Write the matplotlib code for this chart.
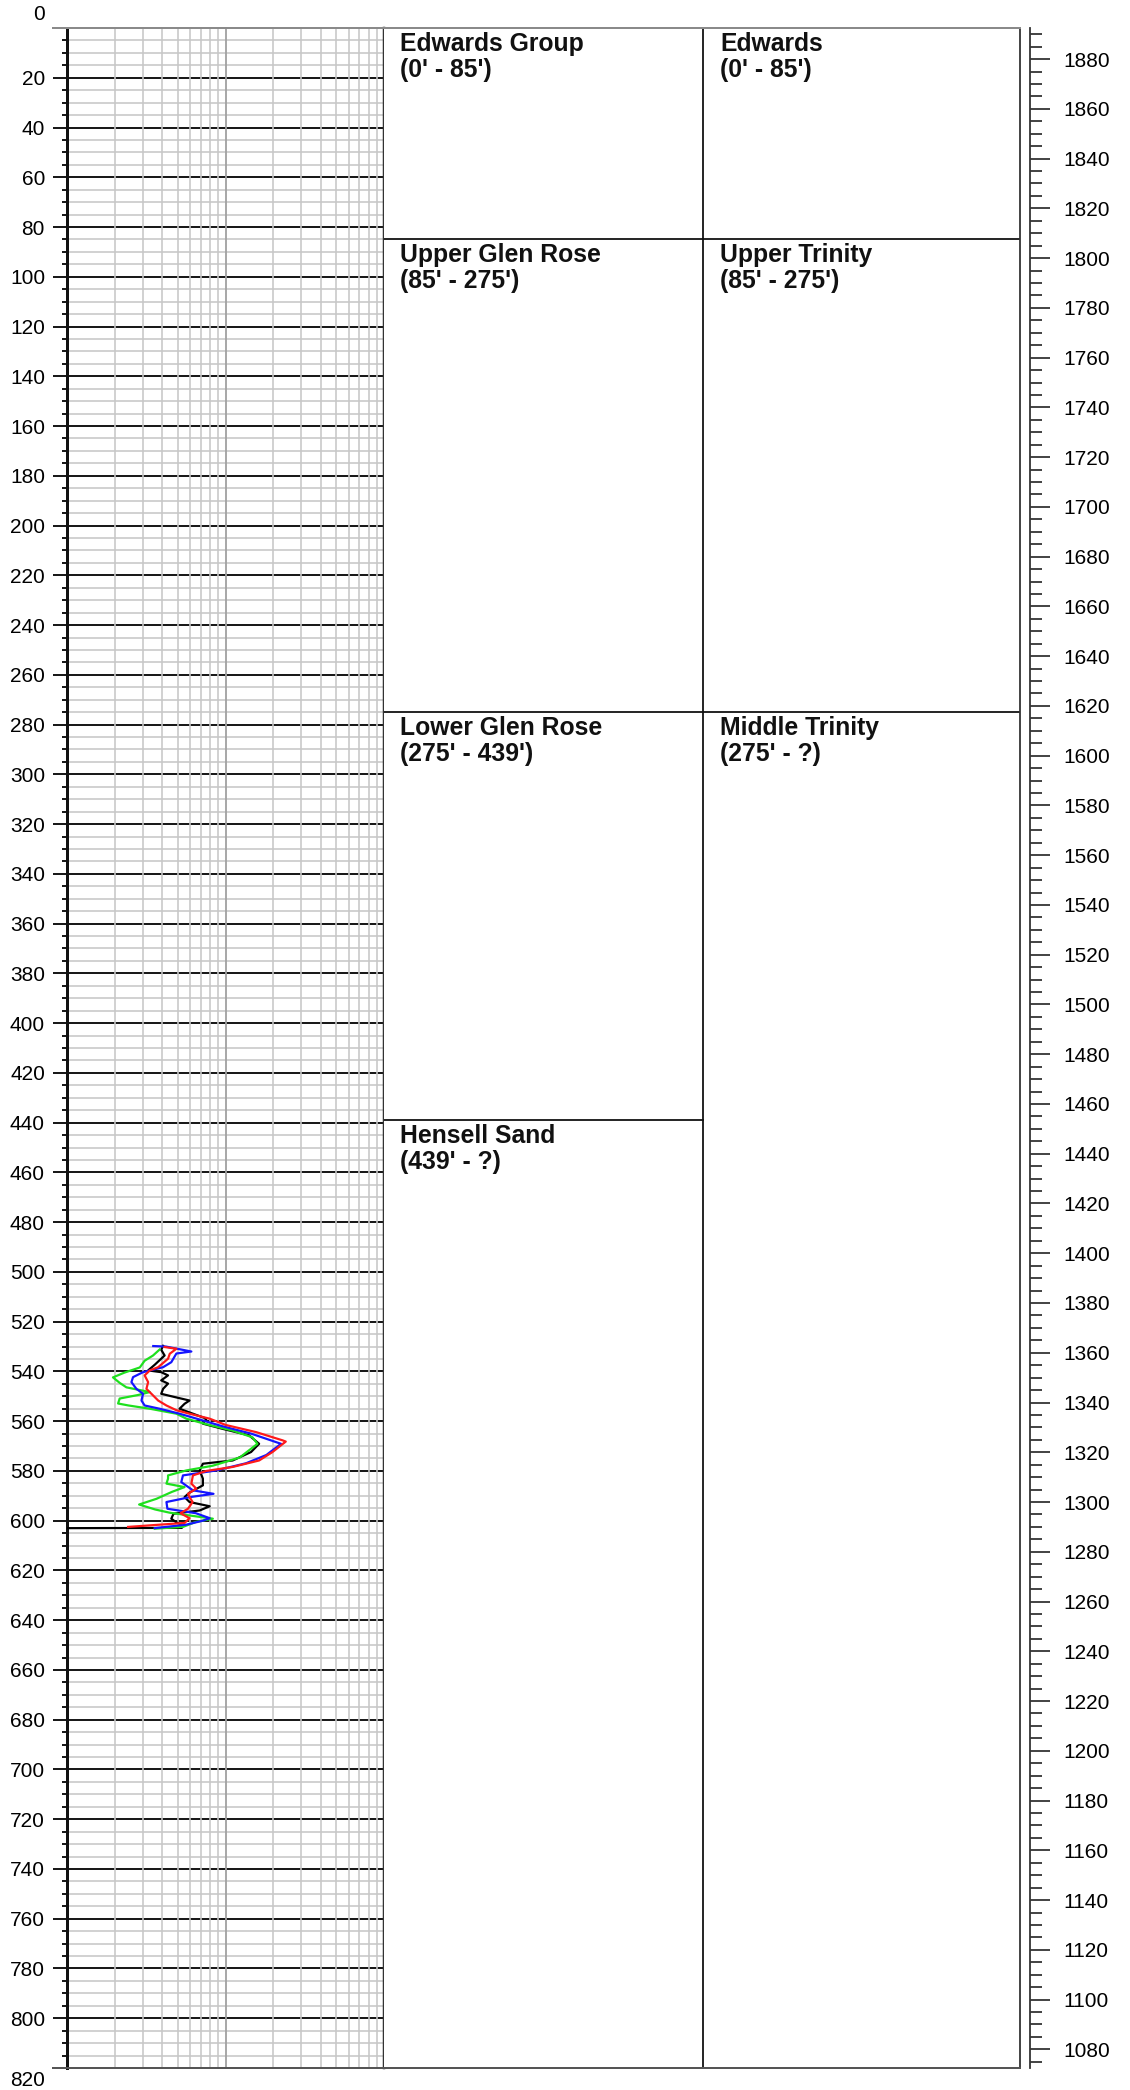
import matplotlib
matplotlib.use("Agg")
import matplotlib.pyplot as plt
from matplotlib.ticker import MultipleLocator, NullLocator
from matplotlib.lines import Line2D

plt.rcParams['font.family'] = ['Liberation Sans', 'DejaVu Sans']

# ── data ─────────────────────────────────────────────────────────────────────
# log curves: depth (ft) and reading (log scale, 1-100)
black_depth = [529.7, 531.3, 533.6, 537.3, 539.6, 540.3, 541.6, 543.6, 544.9, 547.0,
               549.0, 550.3, 551.7, 553.0, 555.0, 557.0, 559.0, 561.0, 563.1, 565.7,
               569.1, 572.4, 575.8, 577.1, 579.8, 583.1, 585.8, 588.7, 590.5, 592.5,
               594.2, 595.9, 597.2, 599.2, 600.7, 601.9, 602.9, 603.0]
black_val = [4.04, 3.93, 4.13, 3.58, 3.25, 3.93, 4.34, 3.93, 4.34, 4.04,
             3.93, 4.78, 5.93, 5.52, 5.13, 6.23, 7.58, 7.2, 9.6, 14.1,
             16.3, 14.5, 11.1, 7.2, 6.87, 7.2, 7.2, 5.93, 5.52, 5.93,
             7.95, 6.87, 4.7, 4.55, 4.9, 5.39, 5.3, 1.0]

green_depth = [531.2, 533.6, 535.7, 538.4, 540.5, 542.4, 544.6, 546.4, 548.3, 549.5,
               550.9, 552.9, 553.7, 555.0, 557.0, 559.0, 561.2, 563.8, 566.5, 569.1,
               574.6, 577.9, 579.8, 581.8, 583.1, 585.1, 586.5, 588.4, 591.2, 593.5,
               595.5, 596.8, 599.2, 600.5, 602.5, 603.2]
green_val = [3.84, 3.49, 3.09, 2.88, 2.3, 1.95, 2.15, 2.37, 3.33, 2.8,
             2.15, 2.1, 2.45, 3.33, 4.9, 5.66, 7.55, 11.1, 14.8, 15.9,
             12.3, 8.32, 5.66, 4.34, 4.34, 4.24, 5.52, 4.6, 3.67, 2.85,
             3.6, 4.45, 8.32, 6.5, 5.39, 3.58]

blue_depth = [529.8, 530.0, 532.0, 532.8, 536.3, 538.3, 540.3, 542.3, 544.3, 547.0,
              549.0, 551.7, 553.7, 555.0, 557.0, 559.5, 562.0, 565.0, 569.1, 573.6,
              576.9, 579.8, 581.8, 584.5, 587.8, 589.2, 590.5, 592.5, 595.2, 597.0,
              599.0, 600.0, 601.6, 603.0]
blue_val = [3.5, 4.2, 6.09, 4.9, 4.55, 4.04, 3.02, 2.61, 2.55, 2.74,
            3.02, 2.95, 3.09, 3.84, 5.13, 7.0, 9.5, 14.5, 22.4, 18.1,
            13.5, 8.75, 5.39, 5.26, 6.23, 8.4, 6.0, 4.24, 4.3, 6.5,
            7.95, 7.2, 5.66, 3.58]

red_depth = [530.2, 530.9, 532.9, 534.9, 538.3, 539.6, 541.6, 544.3, 547.0, 549.0,
             551.7, 553.7, 555.6, 557.0, 559.0, 561.5, 564.4, 567.7, 568.2, 572.4,
             575.8, 578.4, 580.0, 581.8, 585.1, 587.1, 589.2, 590.5, 592.5, 595.2,
             597.0, 599.0, 600.9, 602.5]
red_val = [4.13, 4.9, 4.45, 4.34, 3.76, 3.33, 3.09, 3.25, 3.17, 3.41,
           3.76, 4.24, 4.9, 5.93, 7.95, 10.0, 15.6, 22.9, 24.0, 19.8,
           16.3, 11.1, 7.58, 6.23, 6.09, 6.54, 5.8, 5.93, 6.2, 5.8,
           5.2, 5.93, 5.52, 2.43]

# stratigraphy columns
group_names = ["Edwards Group", "Upper Glen Rose", "Lower Glen Rose", "Hensell Sand"]
group_ranges = ["(0' - 85')", "(85' - 275')", "(275' - 439')", "(439' - ?)"]
group_tops = [0, 85, 275, 439]

aquifer_names = ["Edwards", "Upper Trinity", "Middle Trinity"]
aquifer_ranges = ["(0' - 85')", "(85' - 275')", "(275' - ?)"]
aquifer_tops = [0, 85, 275]

DEPTH_MAX = 820
ELEV_TOP = 1892.5  # land-surface elevation, ft

# ── layout (pixel based, fig = 1130 x 2090 at 100 dpi) ──────────────────────
W, H = 1130, 2090
fig = plt.figure(figsize=(W / 100, H / 100), dpi=100)
y_top, y_bot = 28, 2068
x_trk0, x_trk1, x_col1 = 67, 384, 1020
bottom = 1 - y_bot / H
height = (y_bot - y_top) / H
ft_per_px = DEPTH_MAX / (y_bot - y_top)


def px2pt(p):
    return p * 0.72


# log track
ax = fig.add_axes([x_trk0 / W, bottom, (x_trk1 - x_trk0) / W, height])
ax.set_xscale("log")
ax.set_xlim(1, 100)
ax.set_ylim(DEPTH_MAX, 0)

for d in range(5, DEPTH_MAX, 5):
    if d % 20:
        ax.axhline(d, color="#c8c8c8", lw=px2pt(1.6), zorder=1)
    else:
        ax.axhline(d, color="#1a1a1a", lw=px2pt(2.0), zorder=1.5)
for v in list(range(2, 10)) + list(range(20, 100, 10)):
    ax.axvline(v, color="#c8c8c8", lw=px2pt(1.6), zorder=2)
ax.axvline(10, color="#a0a0a0", lw=px2pt(1.8), zorder=2)

for dep, val, col in [(black_depth, black_val, "#000000"),
                      (green_depth, green_val, "#1ee01e"),
                      (blue_depth, blue_val, "#1414ff"),
                      (red_depth, red_val, "#ff1a1a")]:
    ax.plot(val, dep, color=col, lw=px2pt(2.2), zorder=3, clip_on=True)

ax.spines["top"].set_visible(False)
ax.spines["bottom"].set_visible(False)
ax.spines["left"].set_linewidth(px2pt(3))
ax.spines["left"].set_color("#111111")
ax.spines["right"].set_linewidth(px2pt(2.5))
ax.spines["right"].set_color("#333333")
ax.xaxis.set_major_locator(NullLocator())
ax.xaxis.set_minor_locator(NullLocator())
ax.yaxis.set_major_locator(MultipleLocator(20))
ax.yaxis.set_minor_locator(MultipleLocator(5))
ax.tick_params(axis="y", which="major", length=px2pt(14), width=px2pt(2),
               pad=px2pt(8), labelsize=15, color="#1a1a1a")
ax.tick_params(axis="y", which="minor", length=px2pt(5), width=px2pt(2),
               color="#1a1a1a")
ax.set_yticks(range(20, DEPTH_MAX, 20))
fig.text(45 / W, 1 - 15 / H, "0", ha="right", va="center", fontsize=15)
fig.text(45 / W, 1 - 2080 / H, "820", ha="right", va="center", fontsize=15)

# stratigraphy columns
axc = fig.add_axes([x_trk1 / W, bottom, (x_col1 - x_trk1) / W, height])
axc.set_xlim(0, 2)
axc.set_ylim(DEPTH_MAX, 0)
axc.set_xticks([])
axc.set_yticks([])
for s in ["top", "bottom", "left"]:
    axc.spines[s].set_visible(False)
axc.spines["right"].set_linewidth(px2pt(1.8))
axc.spines["right"].set_color("#333333")
axc.axvline(1.003, color="#111111", lw=px2pt(1.8))

txt_kw = dict(ha="left", va="baseline", fontsize=17.8, fontweight="bold",
              color="#111111")
base1, base2 = 23 * ft_per_px, 49 * ft_per_px
for name, rng, top in zip(group_names, group_ranges, group_tops):
    if top > 0:
        axc.plot([0, 1.003], [top, top], color="#111111", lw=px2pt(1.8))
    axc.text(0.05, top + base1, name, **txt_kw)
    axc.text(0.05, top + base2, rng, **txt_kw)
for name, rng, top in zip(aquifer_names, aquifer_ranges, aquifer_tops):
    if top > 0:
        axc.plot([1.003, 2], [top, top], color="#111111", lw=px2pt(1.8))
    axc.text(1.058, top + base1, name, **txt_kw)
    axc.text(1.058, top + base2, rng, **txt_kw)

# frame lines across the whole log (top and bottom)
fig.add_artist(Line2D([53 / W, x_col1 / W], [1 - y_top / H] * 2,
                      color="#8a8a8a", lw=px2pt(2)))
fig.add_artist(Line2D([53 / W, x_col1 / W], [1 - y_bot / H] * 2,
                      color="#555555", lw=px2pt(2)))

# elevation axis
axe = fig.add_axes([1030 / W, bottom, 0.0001, height])
axe.set_ylim(ELEV_TOP - DEPTH_MAX, ELEV_TOP)
axe.set_xticks([])
for s in ["top", "bottom", "left"]:
    axe.spines[s].set_visible(False)
axe.spines["right"].set_linewidth(px2pt(1.8))
axe.spines["right"].set_color("#333333")
axe.yaxis.tick_right()
axe.yaxis.set_major_locator(MultipleLocator(20))
axe.yaxis.set_minor_locator(MultipleLocator(5))
axe.tick_params(axis="y", which="major", length=px2pt(20), width=px2pt(1.8),
                pad=px2pt(13), labelsize=15, color="#333333")
axe.tick_params(axis="y", which="minor", length=px2pt(12), width=px2pt(1.8),
                color="#333333")

fig.savefig("out.png", dpi=100)
